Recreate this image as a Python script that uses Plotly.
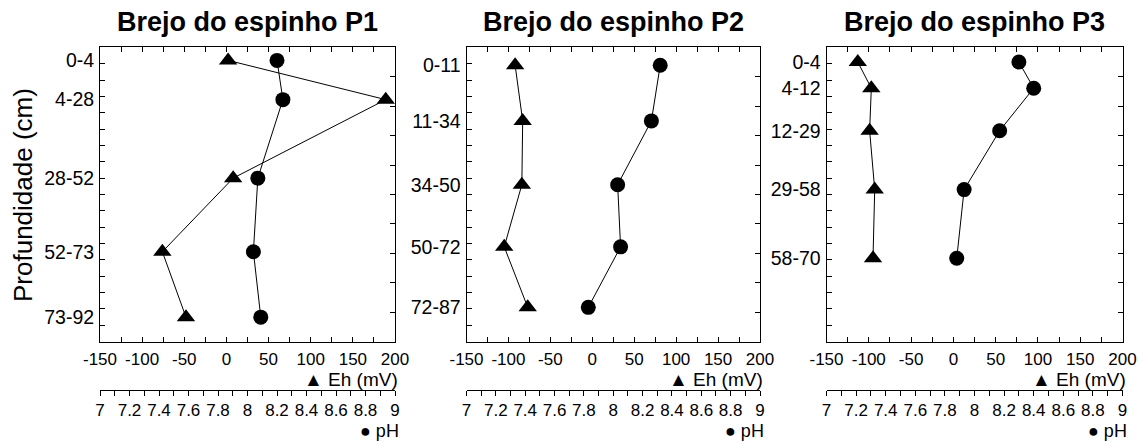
import plotly.graph_objects as go

# Depth intervals (cm) and their plotting depth on the profile axis
camadas_p1 = ["0-4", "4-28", "28-52", "52-73", "73-92"]
camadas_p2 = ["0-11", "11-34", "34-50", "50-72", "72-87"]
camadas_p3 = ["0-4", "4-12", "12-29", "29-58", "58-70"]

prof_p1 = [4, 16, 40, 62.5, 82.5]
prof_p2 = [5.5, 22.5, 42, 61, 79.5]
prof_p3 = [4.5, 12.5, 25.5, 43.5, 64.5]

# Redox potential (mV)
eh_p1 = [2, 189, 8, -76, -48]
eh_p2 = [-92, -83, -84, -105, -77]
eh_p3 = [-113, -97, -99, -93, -95]

# pH
ph_p1 = [8.20, 8.24, 8.07, 8.04, 8.09]
ph_p2 = [8.32, 8.26, 8.03, 8.05, 7.83]
ph_p3 = [8.30, 8.40, 8.17, 7.93, 7.88]

titulos = ["Brejo do espinho P1", "Brejo do espinho P2", "Brejo do espinho P3"]

eh_ticks = [-150, -100, -50, 0, 50, 100, 150, 200]
ph_ticks = [7, 7.2, 7.4, 7.6, 7.8, 8, 8.2, 8.4, 8.6, 8.8, 9]

perfis = [
    (camadas_p1, prof_p1, eh_p1, ph_p1),
    (camadas_p2, prof_p2, eh_p2, ph_p2),
    (camadas_p3, prof_p3, eh_p3, ph_p3),
]

W, H = 1143, 441
FONT = "Liberation Sans, Arial, sans-serif"

# panel boxes in pixels (left, right); shared top/bottom
paineis_px = [(100, 395), (466.5, 760), (826.5, 1122.5)]
top_px, bot_px = 47.3, 341.7
ph_axis_px = 390


def px_x(v):
    return v / W


def px_y(v):
    return (H - v) / H


def axis_key(letter, k):
    return letter + "axis" + ("" if k == 1 else str(k))


def axis_ref(letter, k):
    return letter if k == 1 else f"{letter}{k}"


fig = go.Figure()
layout = dict(
    width=W, height=H, autosize=False,
    margin=dict(l=0, r=0, t=0, b=0, pad=0, autoexpand=False),
    paper_bgcolor="white", plot_bgcolor="white",
    showlegend=False,
    font=dict(family=FONT, color="black"),
)

annotations = []

for i, (camadas, prof, eh, ph) in enumerate(perfis):
    n = i + 1
    base_x, base_y = axis_ref("x", n), axis_ref("y", n)
    ph_x, dir_y = axis_ref("x", n + 3), axis_ref("y", n + 3)

    l, r = paineis_px[i]
    dom_x = [px_x(l), px_x(r)]
    dom_y = [px_y(bot_px), px_y(top_px)]

    # Eh profile (triangles)
    fig.add_trace(go.Scatter(
        x=eh, y=prof, mode="lines+markers",
        xaxis=base_x, yaxis=base_y,
        line=dict(color="black", width=1),
        marker=dict(symbol="triangle-up", size=16, color="black"),
        cliponaxis=False,
    ))
    # pH profile (circles)
    fig.add_trace(go.Scatter(
        x=ph, y=prof, mode="lines+markers",
        xaxis=ph_x, yaxis=dir_y,
        line=dict(color="black", width=1),
        marker=dict(symbol="circle", size=15, color="black"),
        cliponaxis=False,
    ))

    layout[axis_key("x", n)] = dict(
        domain=dom_x, anchor=base_y, range=[-150, 200], automargin=False,
        showline=True, linecolor="black", linewidth=1, mirror="ticks",
        showgrid=False, zeroline=False,
        tickmode="array", tickvals=eh_ticks, ticktext=[str(v) for v in eh_ticks],
        ticks="inside", ticklen=5, tickcolor="black", tickwidth=1,
        minor=dict(tickmode="linear", tick0=-150, dtick=25, ticks="inside",
                   ticklen=5, tickcolor="black", tickwidth=1, showgrid=False),
        tickfont=dict(size=17, family=FONT, color="black"),
        ticklabelstandoff=2,
    )
    layout[axis_key("y", n)] = dict(
        domain=dom_y, anchor=base_x, range=[90, 0], automargin=False,
        showline=True, linecolor="black", linewidth=1, mirror=True,
        showgrid=False, zeroline=False,
        tickmode="array", tickvals=prof, ticktext=camadas,
        ticks="inside", ticklen=0, tickcolor="black",
        minor=dict(tickmode="linear", tick0=0, dtick=5, ticks="inside",
                   ticklen=5, tickcolor="black", tickwidth=1, showgrid=False),
        tickfont=dict(size=19.5, family=FONT, color="black"),
        ticklabelstandoff=1,
    )
    # pH scale under the Eh scale
    layout[axis_key("x", n + 3)] = dict(
        overlaying=base_x, anchor="free", position=px_y(ph_axis_px),
        side="bottom", range=[7, 9], automargin=False,
        showline=True, linecolor="black", linewidth=1,
        showgrid=False, zeroline=False,
        tickmode="array", tickvals=ph_ticks, ticktext=[f"{v:g}" for v in ph_ticks],
        ticks="outside", ticklen=5, tickcolor="black", tickwidth=1,
        minor=dict(tickmode="linear", tick0=7, dtick=0.1, ticks="outside",
                   ticklen=5, tickcolor="black", tickwidth=1, showgrid=False),
        tickfont=dict(size=17, family=FONT, color="black"),
        ticklabelstandoff=0,
    )
    # right-hand depth ticks
    layout[axis_key("y", n + 3)] = dict(
        overlaying=base_y, anchor=base_x, side="right", range=[90, 0],
        automargin=False,
        showline=False, showgrid=False, zeroline=False,
        tickmode="linear", tick0=0, dtick=9,
        ticks="inside", ticklen=5, tickcolor="black", tickwidth=1,
        showticklabels=False,
    )

    cx = (l + r) / 2
    annotations.append(dict(
        text=f"<b>{titulos[i]}</b>", x=px_x(cx), y=px_y(22),
        xref="paper", yref="paper", xanchor="center", yanchor="middle",
        showarrow=False, font=dict(size=27, family=FONT, color="black"),
    ))
    annotations.append(dict(
        text="▲ Eh (mV)",
        x=px_x(r + 5), y=px_y(379),
        xref="paper", yref="paper", xanchor="right", yanchor="middle",
        showarrow=False, font=dict(size=19, family=FONT, color="black"),
    ))
    annotations.append(dict(
        text="● pH",
        x=px_x(r + 5), y=px_y(430.5), borderpad=0,
        xref="paper", yref="paper", xanchor="right", yanchor="middle",
        showarrow=False, font=dict(size=18, family=FONT, color="black"),
    ))

annotations.append(dict(
    text="Profundidade (cm)", x=px_x(23), y=px_y(195),
    xref="paper", yref="paper", xanchor="center", yanchor="middle",
    textangle=-90, showarrow=False,
    font=dict(size=26, family=FONT, color="black"),
))

layout["annotations"] = annotations
fig.update_layout(**layout)
fig.write_html("out.html")
